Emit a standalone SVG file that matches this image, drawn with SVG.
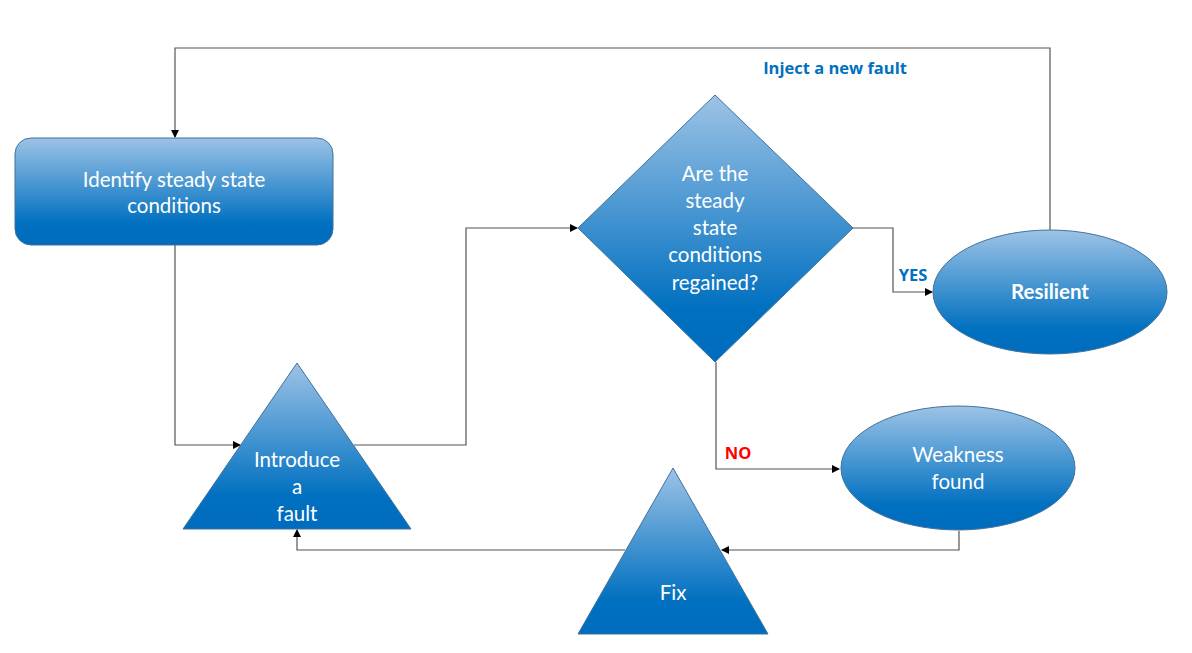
<svg xmlns="http://www.w3.org/2000/svg" width="1192" height="653" viewBox="0 0 1192 653">
<defs>
<linearGradient id="g" x1="0" y1="0" x2="0" y2="1">
<stop offset="0" stop-color="#9DC3E6"/>
<stop offset="0.8" stop-color="#0070C0"/>
<stop offset="1" stop-color="#006CBD"/>
</linearGradient>
<marker id="ah" markerWidth="8" markerHeight="8" refX="7" refY="4" orient="auto" markerUnits="userSpaceOnUse">
<path d="M0,0 L8,4 L0,8 Z" fill="#000"/>
</marker>
<style>
.shape{fill:url(#g);stroke:#41719C;stroke-width:1}
.t{font-family:Lato,"Open Sans","Liberation Sans",sans-serif;font-size:20.5px;fill:#fff;text-anchor:middle}
.b{font-weight:bold}
.c{fill:none;stroke:#555;stroke-width:1.2;marker-end:url(#ah)}
.lbl{font-family:"Open Sans","Liberation Sans",sans-serif;font-weight:bold;font-size:16.5px}
</style>
</defs>
<rect width="1192" height="653" fill="#fff"/>
<g id="connectors">
<polyline class="c" points="1050,230 1050,48 175,48 175,137"/>
<polyline class="c" points="175,245 175,445 240,445"/>
<polyline class="c" points="354,445 466,445 466,228 577,228"/>
<polyline class="c" points="853,228 893,228 893,292 932,292"/>
<polyline class="c" points="716,362 716,469 839,469"/>
<polyline class="c" points="959,531 959,550 722,550"/>
<polyline class="c" points="625,550 297,550 297,530"/>
<text class="lbl" x="835" y="74" fill="#0070C0" text-anchor="middle">Inject a new fault</text>
<text class="lbl" x="913" y="281" fill="#0070C0" text-anchor="middle">YES</text>
<text class="lbl" x="738" y="459" fill="#FF0000" text-anchor="middle">NO</text>
</g>
<g id="identify">
<rect class="shape" x="15" y="138" width="318" height="107" rx="16"/>
<text class="t" x="174" y="187">Identify steady state</text>
<text class="t" x="174" y="213">conditions</text>
</g>
<g id="introduce">
<polygon class="shape" points="297,363 411,529 183,529"/>
<text class="t" x="297" y="467">Introduce</text>
<text class="t" x="297" y="494">a</text>
<text class="t" x="297" y="521">fault</text>
</g>
<g id="decision">
<polygon class="shape" points="715,95 853,228 715,362 578,228"/>
<text class="t" x="715" y="181">Are the</text>
<text class="t" x="715" y="208">steady</text>
<text class="t" x="715" y="235">state</text>
<text class="t" x="715" y="262">conditions</text>
<text class="t" x="715" y="290">regained?</text>
</g>
<g id="resilient">
<ellipse class="shape" cx="1050" cy="292" rx="117" ry="62"/>
<text class="t b" x="1050" y="299">Resilient</text>
</g>
<g id="weakness">
<ellipse class="shape" cx="958" cy="468" rx="117" ry="62"/>
<text class="t" x="958" y="462">Weakness</text>
<text class="t" x="958" y="489">found</text>
</g>
<g id="fix">
<polygon class="shape" points="673,468 768,634 578,634"/>
<text class="t" x="673" y="600">Fix</text>
</g>
</svg>
